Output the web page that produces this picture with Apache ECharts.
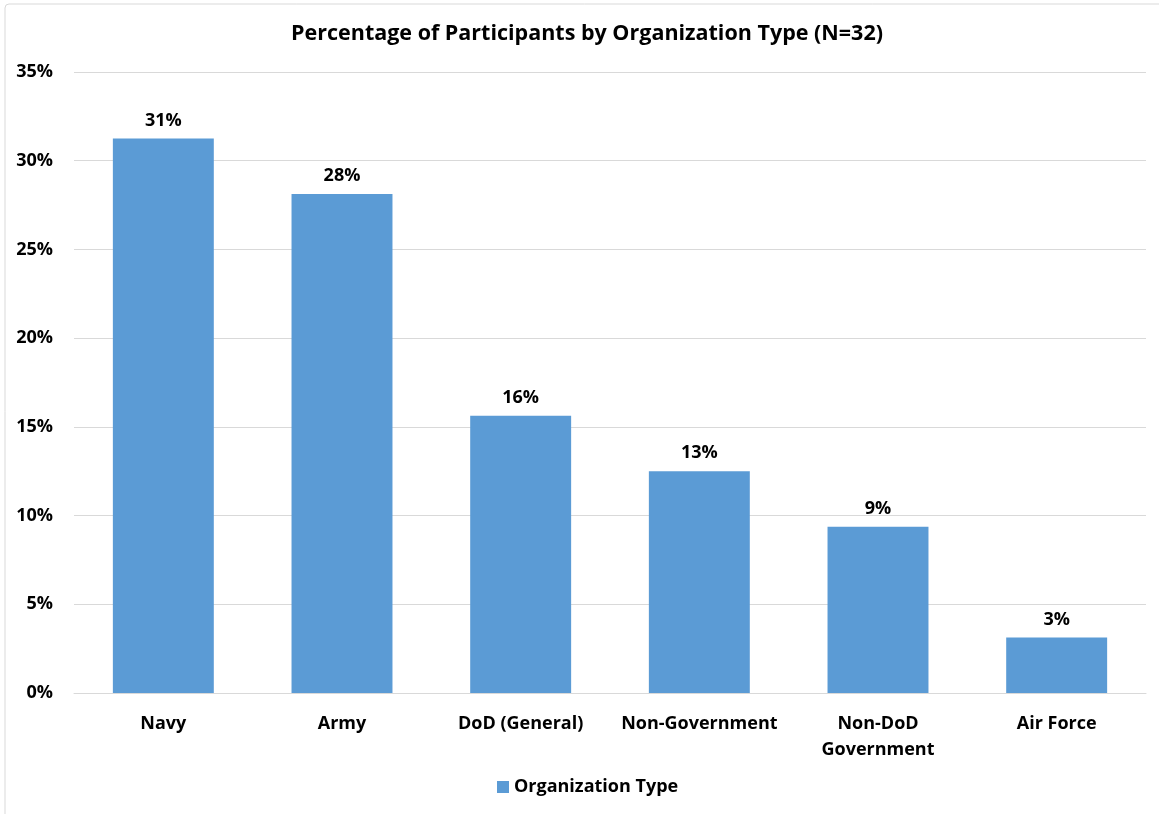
<!DOCTYPE html>
<html>
<head>
<meta charset="utf-8">
<script src="https://cdn.jsdelivr.net/npm/echarts@6/dist/echarts.min.js"></script>
<style>
html,body{margin:0;padding:0;background:#fff;}
#chart{width:1159px;height:814px;}
</style>
</head>
<body>
<div id="chart"></div>
<script>
const categories = ['Navy', 'Army', 'DoD (General)', 'Non-Government', 'Non-DoD\nGovernment', 'Air Force'];
const values = [31.25, 28.125, 15.625, 12.5, 9.375, 3.125];
const seriesName = 'Organization Type';
const titleText = 'Percentage of Participants by Organization Type (N=32)';

const FONT = '"Open Sans", "Liberation Sans", sans-serif';
const chart = echarts.init(document.getElementById('chart'), null, {renderer: 'canvas'});
chart.setOption({
  backgroundColor: '#ffffff',
  animation: false,
  graphic: [{
    type: 'rect',
    shape: {x: 5, y: 4, width: 1170, height: 830, r: 4},
    style: {fill: 'none', stroke: '#d9d9d9', lineWidth: 1},
    silent: true
  }],
  title: {
    text: titleText,
    left: 582, top: 18, textAlign: 'center',
    textStyle: {fontFamily: FONT, fontWeight: 'bold', fontSize: 21.5, color: '#000'}
  },
  legend: {
    data: [seriesName],
    bottom: 13, left: 492,
    itemWidth: 12, itemHeight: 12, itemGap: 6,
    icon: 'rect',
    textStyle: {fontFamily: FONT, fontWeight: 'bold', fontSize: 18, color: '#000'}
  },
  grid: {left: 74, right: 13, top: 72, bottom: 121, containLabel: false},
  xAxis: {
    type: 'category',
    data: categories,
    axisLine: {show: true, lineStyle: {color: '#d9d9d9', width: 1}},
    axisTick: {show: false},
    axisLabel: {fontFamily: FONT, fontWeight: 'bold', fontSize: 18, color: '#000', margin: 18, lineHeight: 26, interval: 0}
  },
  yAxis: {
    type: 'value',
    min: 0, max: 35, interval: 5,
    axisLine: {show: false},
    axisTick: {show: false},
    splitLine: {lineStyle: {color: '#d9d9d9', width: 1}},
    axisLabel: {fontFamily: FONT, fontWeight: 'bold', fontSize: 18, color: '#000', margin: 21, formatter: v => v + '%'}
  },
  series: [{
    name: seriesName,
    type: 'bar',
    data: values,
    barCategoryGap: '43.5%',
    itemStyle: {color: '#5b9bd5'},
    label: {
      show: true, position: 'top', distance: 9,
      fontFamily: FONT, fontWeight: 'bold', fontSize: 18, color: '#000',
      formatter: p => Math.round(p.value) + '%'
    }
  }]
});
</script>
</body>
</html>
